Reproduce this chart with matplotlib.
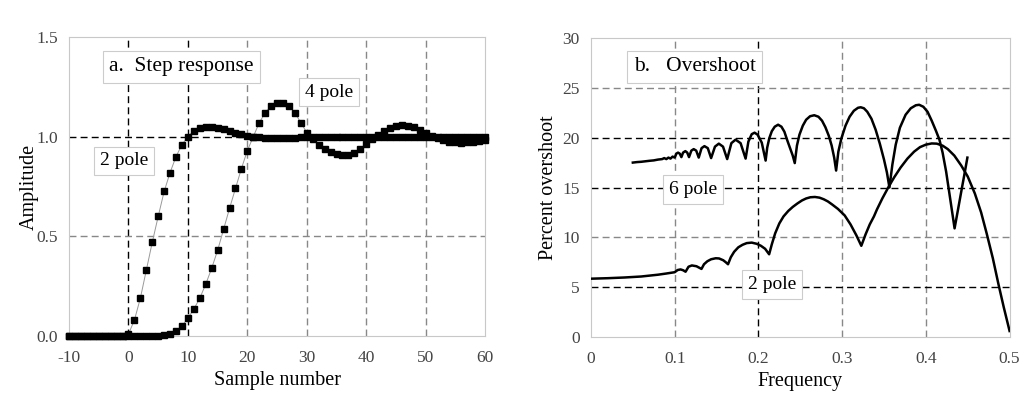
import numpy as np
import matplotlib
matplotlib.use("Agg")
import matplotlib.pyplot as plt

plt.rcParams["font.family"] = ["Liberation Serif", "DejaVu Serif"]
plt.rcParams["axes.unicode_minus"] = False

# ---------------------------------------------------------
# a. Step response (Chebyshev, 2 and 4 pole)
# ---------------------------------------------------------
samples = np.arange(-10, 61)

step_2pole = [0.0] * 10 + [
    0.01, 0.08, 0.19, 0.33, 0.47, 0.60, 0.725, 0.82, 0.90, 0.96,
    1.0, 1.03, 1.045, 1.05, 1.05, 1.045, 1.04, 1.03, 1.02, 1.012,
    1.005, 1.0, 0.997, 0.995, 0.995, 0.994, 0.994, 0.995, 0.995, 0.996,
    0.997, 0.998, 0.999, 1.0, 1.0, 1.0, 1.0, 1.0, 1.0, 1.0,
    1.0, 1.0, 1.0, 1.0, 1.0, 1.0, 1.0, 1.0, 1.0, 1.0,
    1.0, 1.0, 1.0, 1.0, 1.0, 1.0, 1.0, 1.0, 1.0, 1.0,
    1.0,
]

step_4pole = [0.0] * 10 + [
    0.0, 0.0, 0.0, 0.0, 0.0, 0.002, 0.005, 0.012, 0.025, 0.05,
    0.09, 0.135, 0.19, 0.26, 0.34, 0.43, 0.535, 0.64, 0.74, 0.84,
    0.93, 1.0, 1.07, 1.12, 1.155, 1.17, 1.17, 1.155, 1.12, 1.07,
    1.02, 0.99, 0.96, 0.94, 0.925, 0.912, 0.907, 0.91, 0.92, 0.94,
    0.965, 0.99, 1.01, 1.03, 1.045, 1.053, 1.057, 1.055, 1.048, 1.035,
    1.02, 1.005, 0.992, 0.982, 0.975, 0.971, 0.97, 0.971, 0.975, 0.98,
    0.985,
]

# ---------------------------------------------------------
# b. Overshoot vs cutoff frequency
# ---------------------------------------------------------
freq_6pole = [
    0.050, 0.055, 0.060, 0.065, 0.070, 0.075, 0.080, 0.085, 0.0875, 0.090,
    0.0925, 0.095, 0.0975, 0.100,
    0.102, 0.104, 0.106, 0.108, 0.110, 0.1127, 0.115, 0.1171,
    0.1199, 0.1227, 0.1257, 0.1287, 0.1321, 0.1355, 0.1395, 0.1435,
    0.1481, 0.1527, 0.1577, 0.1627, 0.1677, 0.1727, 0.1787, 0.1847,
    0.1880, 0.1920, 0.1954, 0.1990, 0.2040, 0.2086,
    0.2105, 0.2130, 0.2160, 0.2195, 0.2235, 0.2275, 0.2310, 0.2346, 0.2380, 0.2410, 0.2434,
    0.2460, 0.2490, 0.2530, 0.2570, 0.2617, 0.2667, 0.2717, 0.2760, 0.2800, 0.2840,
    0.2875, 0.2905, 0.2928,
    0.2955, 0.2990, 0.3040, 0.3089, 0.3140, 0.3190, 0.3222, 0.3260, 0.3300, 0.3350,
    0.3400, 0.3450, 0.3500, 0.3535, 0.3565,
    0.3600, 0.3640, 0.3690, 0.3758, 0.3820, 0.3880, 0.3920, 0.3970, 0.4020, 0.4070,
    0.4120, 0.4162, 0.4200, 0.4242, 0.4290, 0.4343,
    0.4380, 0.4423, 0.4460, 0.4496,
]
over_6pole = [
    17.50, 17.55, 17.58, 17.63, 17.68, 17.72, 17.80, 17.85, 17.95, 17.85,
    18.00, 17.90, 18.10, 18.00,
    18.40, 18.50, 18.40, 18.05, 18.50, 18.65, 18.50, 18.05,
    18.70, 18.85, 18.70, 18.00, 18.95, 19.15, 18.95, 17.95,
    19.10, 19.40, 19.10, 17.85, 19.45, 19.80, 19.45, 17.90,
    19.60, 20.35, 20.50, 20.30, 19.50, 17.70,
    19.00, 19.95, 20.65, 21.10, 21.30, 21.10, 20.60, 19.70, 18.90, 18.20, 17.45,
    19.20, 20.30, 21.20, 21.80, 22.15, 22.25, 22.10, 21.70, 21.05, 20.20,
    19.20, 18.00, 16.70,
    18.60, 19.90, 21.20, 22.10, 22.70, 23.00, 23.05, 22.95, 22.60, 21.90,
    20.80, 19.40, 17.80, 16.50, 15.00,
    17.30, 19.30, 21.00, 22.30, 22.95, 23.25, 23.30, 23.10, 22.60, 21.70,
    20.70, 19.80, 18.50, 16.60, 13.90, 10.90,
    12.60, 14.60, 16.30, 18.00,
]

freq_2pole = [
    0.000, 0.020, 0.040, 0.060, 0.080, 0.090, 0.100,
    0.1035, 0.107, 0.110, 0.113, 0.1165, 0.1205, 0.126, 0.132,
    0.135, 0.139, 0.1435, 0.149, 0.153, 0.158, 0.161, 0.1637,
    0.167, 0.171, 0.176, 0.181, 0.186, 0.192, 0.198, 0.203, 0.208, 0.2128,
    0.2160, 0.2200, 0.2250, 0.2300, 0.2357, 0.2410, 0.2466, 0.2520, 0.2570, 0.2620,
    0.2675, 0.2730, 0.2780, 0.2830, 0.2880, 0.2950, 0.3030, 0.3100, 0.3170, 0.3229,
    0.3280, 0.3330, 0.3380, 0.3416, 0.3480, 0.3557, 0.3620, 0.3698, 0.3780, 0.3860,
    0.3930, 0.4000, 0.4070, 0.4130, 0.4200, 0.4262, 0.4340, 0.4423, 0.4500, 0.4585,
    0.4660, 0.4726, 0.4800, 0.4867, 0.4930, 0.5000,
]
over_2pole = [
    5.85, 5.90, 5.97, 6.07, 6.25, 6.37, 6.50,
    6.72, 6.78, 6.70, 6.55, 7.05, 7.18, 7.10, 6.83,
    7.30, 7.60, 7.80, 7.90, 7.88, 7.70, 7.50, 7.30,
    8.00, 8.55, 9.00, 9.25, 9.42, 9.47, 9.35, 9.15, 8.85, 8.30,
    9.30, 10.40, 11.40, 12.10, 12.65, 13.05, 13.40, 13.70, 13.90, 14.02,
    14.05, 13.98, 13.82, 13.60, 13.30, 12.85, 12.20, 11.30, 10.20, 9.15,
    10.30, 11.30, 12.10, 12.80, 13.90, 15.10, 16.00, 17.00, 17.90, 18.60,
    19.05, 19.30, 19.42, 19.40, 19.20, 18.85, 18.20, 17.20, 16.10, 14.40,
    12.50, 10.40, 7.90, 5.30, 3.00, 0.60,
]

# gridlines: (position, colour)
grid_a_x = [(0, "black"), (10, "black"), (20, "#888888"), (30, "#888888"),
            (40, "#888888"), (50, "#888888")]
grid_a_y = [(0.5, "#888888"), (1.0, "black")]
grid_b_x = [(0.1, "#888888"), (0.2, "black"), (0.3, "#888888"), (0.4, "#888888")]
grid_b_y = [(5, "black"), (10, "#888888"), (15, "black"), (20, "black"),
            (25, "#888888")]

CAIXA_TIT = dict(boxstyle="square,pad=0.3", facecolor="white",
                 edgecolor="#cccccc", linewidth=0.8)
CAIXA = dict(boxstyle="square,pad=0.3", facecolor="white",
             edgecolor="#cccccc", linewidth=0.8)


def preparar(ax, gx, gy):
    for pos, cor in gx:
        ax.axvline(pos, color=cor, linestyle=(0, (5, 3)), linewidth=1.0, zorder=1)
    for pos, cor in gy:
        ax.axhline(pos, color=cor, linestyle=(0, (5, 3)), linewidth=1.0, zorder=1)
    for sp in ax.spines.values():
        sp.set_color("#c8c8c8")
        sp.set_linewidth(0.8)
    ax.tick_params(length=0, labelsize=12.5, colors="#444444", pad=8)
    ax.tick_params(axis="x", pad=10)


fig = plt.figure(figsize=(10.26, 4.0), dpi=100)

# ---------------- panel a ----------------
ax1 = fig.add_axes([0.0673, 0.16, 0.4055, 0.7475])
preparar(ax1, grid_a_x, grid_a_y)
for serie in (step_2pole, step_4pole):
    ax1.plot(samples, serie, color="#999999", linewidth=0.7, zorder=2)
    ax1.plot(samples, serie, linestyle="none", marker="s", markersize=4.8,
             color="black", zorder=3, clip_on=False)
ax1.set_xlim(-10, 60)
ax1.set_ylim(0, 1.5)
ax1.set_xticks(range(-10, 61, 10))
ax1.set_yticks([0, 0.5, 1.0, 1.5])
ax1.set_yticklabels(["0.0", "0.5", "1.0", "1.5"])
ax1.set_xlabel("Sample number", fontsize=14.5, labelpad=4)
ax1.set_ylabel("Amplitude", fontsize=14.5, labelpad=-2)
ax1.text(8.9, 1.35, "a.  Step response", fontsize=15.5, ha="center",
         va="center", bbox=CAIXA_TIT, zorder=5)
ax1.text(33.7, 1.224, "4 pole", fontsize=14, ha="center", va="center",
         bbox=CAIXA, zorder=5)
ax1.text(-0.8, 0.878, "2 pole", fontsize=14, ha="center", va="center",
         bbox=CAIXA, zorder=5)

# ---------------- panel b ----------------
ax2 = fig.add_axes([0.576, 0.1575, 0.408, 0.7475])
preparar(ax2, grid_b_x, grid_b_y)
ax2.plot(freq_6pole, over_6pole, color="black", linewidth=1.8, zorder=3)
ax2.plot(freq_2pole, over_2pole, color="black", linewidth=1.8, zorder=3)
ax2.set_xlim(0, 0.5)
ax2.set_ylim(0, 30)
ax2.set_xticks([0, 0.1, 0.2, 0.3, 0.4, 0.5])
ax2.set_xticklabels(["0", "0.1", "0.2", "0.3", "0.4", "0.5"])
ax2.set_yticks(range(0, 31, 5))
ax2.set_xlabel("Frequency", fontsize=14.5, labelpad=4)
ax2.set_ylabel("Percent overshoot", fontsize=14.5, labelpad=3)
ax2.text(0.124, 27.1, "b.   Overshoot", fontsize=15.5, ha="center",
         va="center", bbox=CAIXA_TIT, zorder=5)
ax2.text(0.1217, 14.77, "6 pole", fontsize=14, ha="center", va="center",
         bbox=CAIXA, zorder=5)
ax2.text(0.2167, 5.28, "2 pole", fontsize=14, ha="center", va="center",
         bbox=CAIXA, zorder=5)

fig.savefig("out.png", dpi=100, facecolor="white")
